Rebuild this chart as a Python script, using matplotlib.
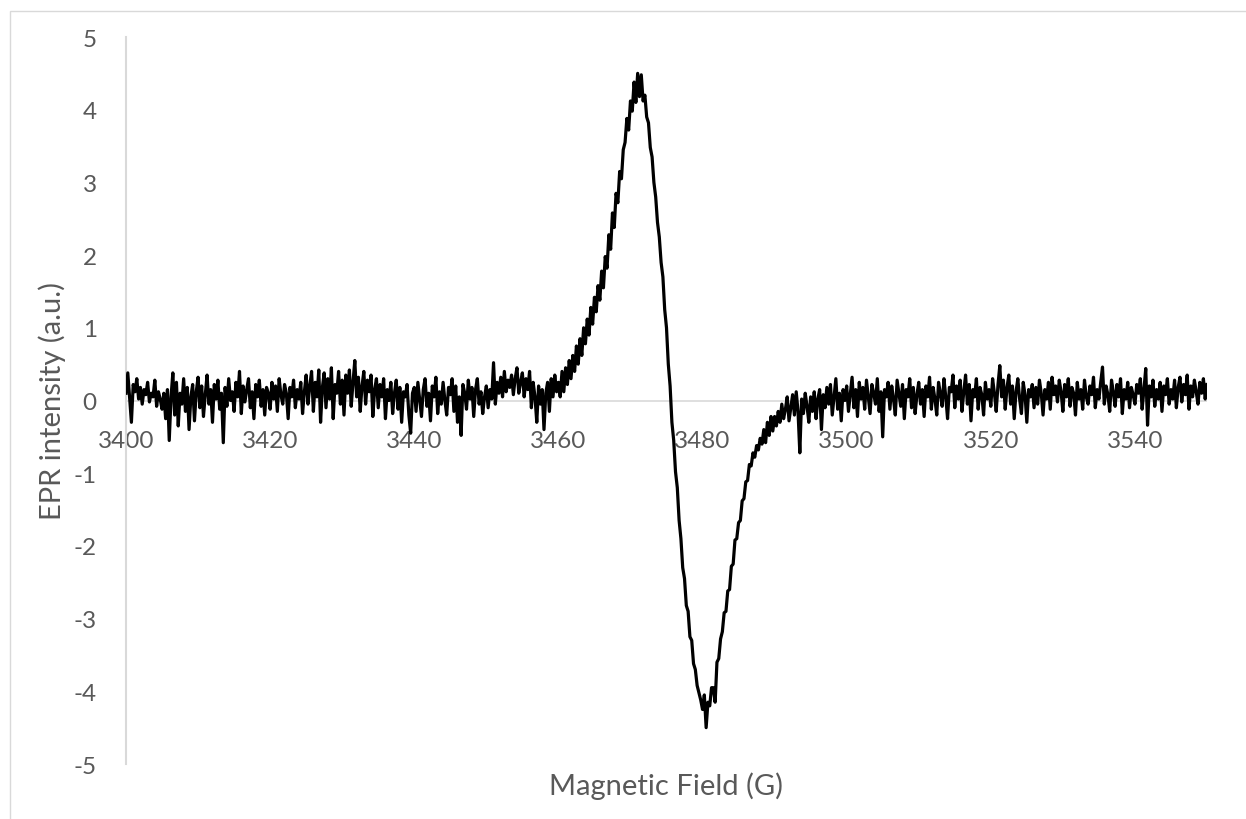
import numpy as np
import matplotlib
matplotlib.use("Agg")
import matplotlib.pyplot as plt
from matplotlib.patches import Rectangle

# ---- data (0.25 G steps) ----
field_start = 3400.0
field_stop = 3550.0

baseline_left = [
    0.10, 0.38, 0.05, -0.30, 0.22, 0.12, 0.30, 0.02, 0.18, -0.05, 0.15, 0.08, 0.25, -0.02, 0.10, 0.05, 0.28, -0.08, 0.12, 0.02,
    -0.12, 0.10, -0.25, 0.15, -0.55, 0.05, 0.38, -0.20, 0.25, -0.35, 0.10, -0.05, 0.30, -0.15, 0.18, -0.40, 0.05, 0.22, -0.28, 0.12,
    0.32, -0.10, 0.20, -0.22, 0.08, 0.35, -0.05, 0.15, -0.30, 0.22, 0.02, 0.28, -0.12, 0.10, -0.58, 0.18, -0.08, 0.30, 0.00, 0.12,
    -0.15, 0.25, 0.05, 0.40, -0.18, 0.20, -0.02, 0.15, 0.30, -0.10, 0.12, -0.25, 0.22, 0.05, 0.28, -0.08, 0.15, -0.20, 0.18, 0.10,
    -0.12, 0.25, 0.02, 0.20, -0.15, 0.30, 0.08, -0.05, 0.22, 0.10, -0.25, 0.18, 0.05, 0.28, -0.10, 0.15, 0.02, 0.25, -0.18, 0.12,
    0.35, -0.05, 0.20, 0.40, -0.15, 0.25, 0.05, 0.42, -0.30, 0.18, 0.38, -0.10, 0.30, 0.02, 0.45, -0.25, 0.22, 0.10, 0.40, -0.05,
    0.28, -0.20, 0.35, 0.10, 0.42, -0.08, 0.25, 0.55, 0.05, 0.32, -0.15, 0.20, 0.40, -0.05, 0.28, 0.12, 0.35, -0.22, 0.15, 0.30,
    -0.10, 0.22, 0.05, 0.30, -0.25, 0.15, 0.00, 0.25, -0.18, 0.10, 0.28, -0.12, 0.18, -0.30, 0.12, 0.05, 0.22, -0.20, -0.45, 0.10,
    0.18, -0.15, 0.25, 0.02, -0.22, 0.15, 0.30, -0.08, 0.10, -0.28, 0.20, 0.05, 0.32, -0.18, 0.12, -0.05, 0.25, 0.00, -0.20, 0.18,
    0.08, 0.30, -0.15, 0.20, -0.30, 0.05, -0.48, 0.22, 0.10, -0.12, 0.28, 0.02, 0.18, -0.22, 0.15, 0.30, -0.05, 0.12, -0.18, 0.05,
    0.20, -0.10, 0.15, 0.02, 0.52, -0.05, 0.25, 0.10, 0.32, 0.05, 0.40, 0.12, 0.28, 0.18, 0.35, 0.08, 0.30, 0.45, 0.10, 0.25,
    0.38, 0.05, 0.30, 0.15, 0.40, -0.10, 0.25, 0.05, -0.30, 0.20, -0.05, 0.15, -0.40, 0.10, 0.25, -0.15, 0.30, 0.05, 0.35, 0.12,
]

signal = [
    0.25, 0.05, 0.40, 0.12, 0.45, 0.22, 0.55, 0.30, 0.62, 0.40, 0.75, 0.50, 0.85, 0.62, 1.00, 0.78, 1.12, 0.90, 1.28, 1.05,
    1.42, 1.22, 1.58, 1.38, 1.78, 1.55, 1.98, 1.82, 2.28, 2.08, 2.58, 2.38, 2.85, 2.72, 3.15, 3.05, 3.45, 3.55, 3.88, 3.72,
    4.12, 3.98, 4.38, 4.10, 4.50, 4.18, 4.48, 4.12, 4.20, 3.90, 3.82, 3.48, 3.35, 3.00, 2.80, 2.45, 2.25, 1.90, 1.70, 1.25,
    1.00, 0.50, 0.20, -0.30, -0.55, -0.98, -1.20, -1.65, -1.90, -2.30, -2.45, -2.82, -2.90, -3.25, -3.30, -3.62, -3.70, -3.92, -4.02, -4.12,
    -4.25, -4.05, -4.50, -4.15, -4.20, -3.95, -3.95, -4.15, -3.60, -3.55, -3.28, -3.18, -2.92, -2.90, -2.62, -2.60, -2.28, -2.25, -1.92, -1.90,
    -1.68, -1.65, -1.38, -1.35, -1.12, -1.10, -0.88, -0.90, -0.72, -0.78, -0.62, -0.68, -0.52, -0.60, -0.40, -0.58, -0.30, -0.48, -0.22, -0.42,
]

baseline_right = [
    -0.22, -0.35, -0.15, -0.30, -0.05, -0.25, -0.12, 0.05, -0.28, -0.10, 0.08, -0.20, 0.12, -0.15, -0.72, 0.02, -0.18, 0.10, -0.08, -0.30,
    0.05, -0.15, 0.12, -0.25, 0.02, 0.15, -0.40, 0.08, -0.10, 0.18, -0.05, 0.22, -0.20, 0.05, 0.30, -0.12, 0.10, -0.28, 0.15, 0.00,
    0.20, -0.15, 0.08, 0.32, -0.10, 0.15, -0.22, 0.25, 0.02, 0.18, -0.12, 0.28, 0.05, -0.18, 0.22, 0.10, -0.05, 0.30, -0.15, 0.12,
    -0.50, 0.15, 0.05, 0.25, -0.12, 0.20, 0.02, -0.20, 0.28, 0.10, -0.08, 0.22, -0.25, 0.15, 0.05, 0.30, -0.10, 0.18, -0.18, 0.08,
    0.25, -0.05, 0.15, -0.22, 0.20, 0.05, 0.32, -0.12, 0.18, 0.02, -0.20, 0.25, 0.10, -0.08, 0.30, 0.05, -0.25, 0.18, 0.12, 0.35,
    -0.10, 0.20, 0.02, 0.28, -0.15, 0.12, 0.35, -0.05, 0.22, -0.28, 0.15, 0.05, 0.30, -0.12, 0.18, 0.08, -0.20, 0.25, 0.02, 0.15,
    -0.08, 0.30, 0.10, -0.15, 0.22, 0.48, 0.05, 0.28, -0.12, 0.18, 0.35, -0.05, 0.20, -0.25, 0.12, 0.30, 0.02, -0.18, 0.25, 0.08,
    -0.30, 0.15, 0.05, 0.22, -0.10, 0.18, -0.05, 0.28, 0.10, -0.20, 0.15, 0.02, 0.25, -0.12, 0.32, 0.08, 0.20, -0.02, 0.28, 0.12,
    -0.15, 0.22, 0.05, 0.30, -0.08, 0.18, 0.10, -0.20, 0.25, 0.02, 0.15, -0.12, 0.28, 0.05, -0.05, 0.20, 0.08, 0.32, -0.10, 0.15,
    0.02, 0.25, 0.46, -0.05, 0.20, 0.08, -0.15, 0.28, 0.12, -0.08, 0.22, 0.05, 0.30, -0.18, 0.15, 0.02, 0.25, -0.10, 0.18, 0.08,
    -0.05, 0.22, 0.10, 0.30, -0.12, 0.15, 0.44, -0.34, 0.20, 0.05, 0.28, -0.08, 0.15, 0.02, 0.25, -0.15, 0.20, 0.08, 0.30, -0.05,
    0.15, 0.02, 0.28, -0.10, 0.18, 0.32, -0.02, 0.22, 0.08, 0.35, -0.12, 0.20, 0.05, 0.28, 0.12, -0.05, 0.25, 0.10, 0.30, 0.02,
    0.22,
]

x_ticks = [3400, 3420, 3440, 3460, 3480, 3500, 3520, 3540]
y_ticks = [-5, -4, -3, -2, -1, 0, 1, 2, 3, 4, 5]
x_label = "Magnetic Field (G)"
y_label = "EPR intensity (a.u.)"

intensity = np.array(baseline_left + signal + baseline_right)
field = np.linspace(field_start, field_stop, len(intensity))

# ---- figure ----
W, H = 1246, 820
fig = plt.figure(figsize=(W / 100, H / 100), dpi=100)
plt.rcParams['font.family'] = ['Lato', 'DejaVu Sans']
text_color = '#595959'
grid_color = '#d9d9d9'

# outer chart border (Excel-like)
fig.patches.append(Rectangle((10 / W, -0.1), 1.2, (H - 12) / H + 0.1,
                             transform=fig.transFigure, fill=False,
                             edgecolor=grid_color, linewidth=1.0))

left, right = 126 / W, 1207 / W
top, bottom = 1 - 38 / H, 1 - 765 / H
ax = fig.add_axes([left, bottom, right - left, top - bottom])

ax.plot(field, intensity, color='black', linewidth=2.3, zorder=3)
ax.axhline(0, color=grid_color, linewidth=1.2, zorder=1)

ax.set_xlim(field_start, field_stop)
ax.set_ylim(-5, 5)
ax.set_xticks(x_ticks)
ax.set_yticks(y_ticks)
ax.set_yticklabels([str(v) for v in y_ticks])

for s in ['top', 'right', 'bottom']:
    ax.spines[s].set_visible(False)
ax.spines['left'].set_color(grid_color)
ax.spines['left'].set_linewidth(1.5)

# x tick labels next to the zero line
ax.spines['bottom'].set_position(('data', 0))
ax.tick_params(axis='x', length=0, pad=21, labelsize=17.5, labelcolor=text_color)
ax.tick_params(axis='y', length=0, pad=21, labelsize=17.5, labelcolor=text_color)
for lab in ax.get_xticklabels():
    lab.set_zorder(2)

fig.text((left + right) / 2, 1 - 786 / H, x_label, ha='center', va='center',
         fontsize=21, color=text_color)
fig.text(52 / W, (top + bottom) / 2, y_label, ha='center', va='center',
         rotation=90, fontsize=21, color=text_color)

fig.savefig('out.png', dpi=100)
